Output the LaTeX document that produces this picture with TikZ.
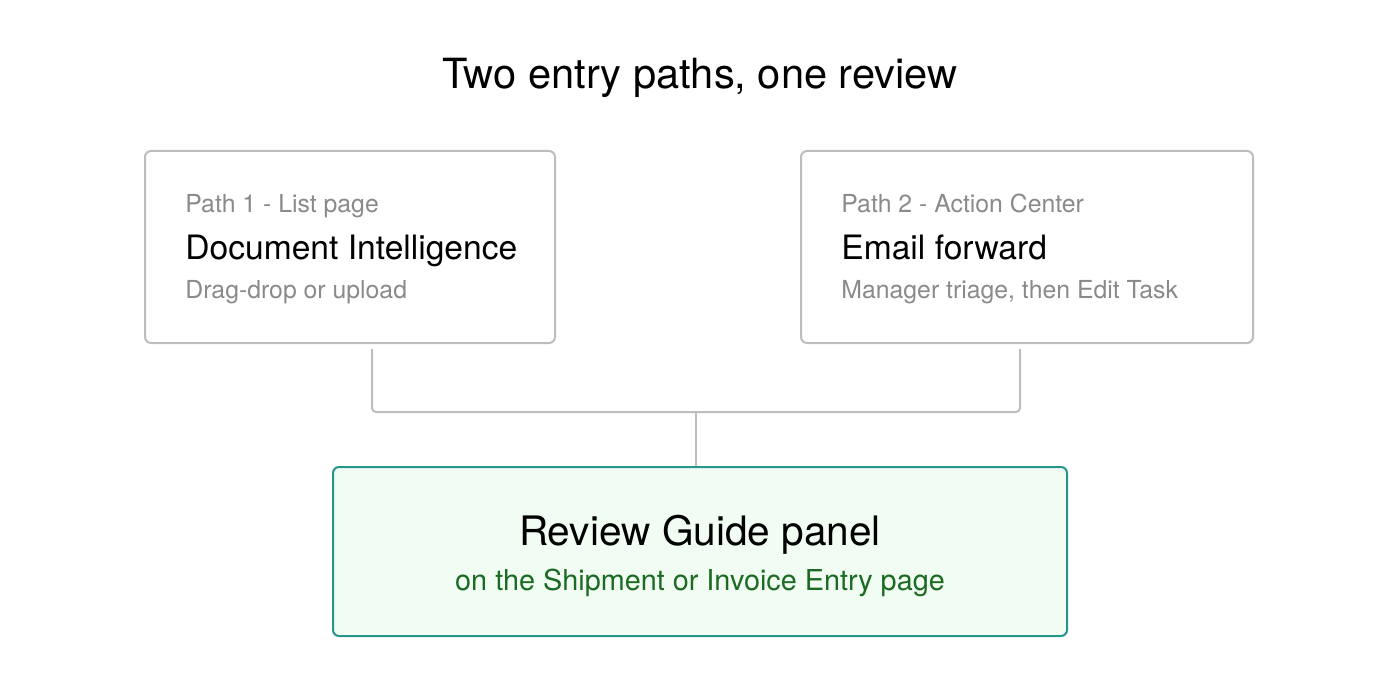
\documentclass[tikz,border=0pt]{standalone}
\usepackage{fontspec}
\setmainfont{TeX Gyre Heros}
\definecolor{boxline}{HTML}{BDBDBD}
\definecolor{subgray}{HTML}{8A8A8A}
\definecolor{greenfill}{HTML}{F1FCF3}
\definecolor{tealline}{HTML}{26968A}
\definecolor{darkgreen}{HTML}{1B6B23}
\begin{document}
\begin{tikzpicture}[x=0.5pt,y=-0.5pt,
  pathbox/.style={draw=boxline,line width=1pt,rounded corners=3pt,fill=white,inner sep=0pt},
  guidebox/.style={draw=tealline,line width=1pt,rounded corners=3pt,fill=greenfill,inner sep=0pt},
  smalltxt/.style={anchor=base west,inner sep=0pt,text=subgray,font=\fontsize{12.4}{14}\selectfont},
  headtxt/.style={anchor=base west,inner sep=0pt,text=black,font=\fontsize{16.8}{19}\selectfont},
  conn/.style={draw=boxline,line width=1pt,rounded corners=2pt}]
\useasboundingbox (0,0) rectangle (1400,700);
\node[anchor=base,inner sep=0pt,font=\fontsize{20.8}{24}\selectfont] (title) at (700,89) {Two entry paths, one review};
\node[pathbox,minimum width=205pt,minimum height=96pt] (b1) at (350,247) {};
\node[pathbox,minimum width=226pt,minimum height=96pt] (b2) at (1027,247) {};
\node[guidebox,minimum width=367pt,minimum height=84.5pt] (g) at (700,551.5) {};
\node[smalltxt] (b1a) at (185,213) {Path 1 - List page};
\node[headtxt] (b1b) at (185,259) {Document Intelligence};
\node[smalltxt] (b1c) at (185,298) {Drag-drop or upload};
\node[smalltxt] (b2a) at (841,213) {Path 2 - Action Center};
\node[headtxt] (b2b) at (841,259) {Email forward};
\node[smalltxt] (b2c) at (841,298) {Manager triage, then Edit Task};
\node[anchor=base,inner sep=0pt,font=\fontsize{20.3}{23}\selectfont] (g1) at (700,545) {Review Guide panel};
\node[anchor=base,inner sep=0pt,text=darkgreen,font=\fontsize{14.4}{17}\selectfont] (g2) at (700,590) {on the Shipment or Invoice Entry page};
\coordinate (s1) at (372,349);
\coordinate (s2) at (1020,349);
\coordinate (j) at (696,412);
\draw[conn] (s1) |- (j) -| (s2);
\draw[conn] (j) -- (j |- g.north);
\end{tikzpicture}
\end{document}
